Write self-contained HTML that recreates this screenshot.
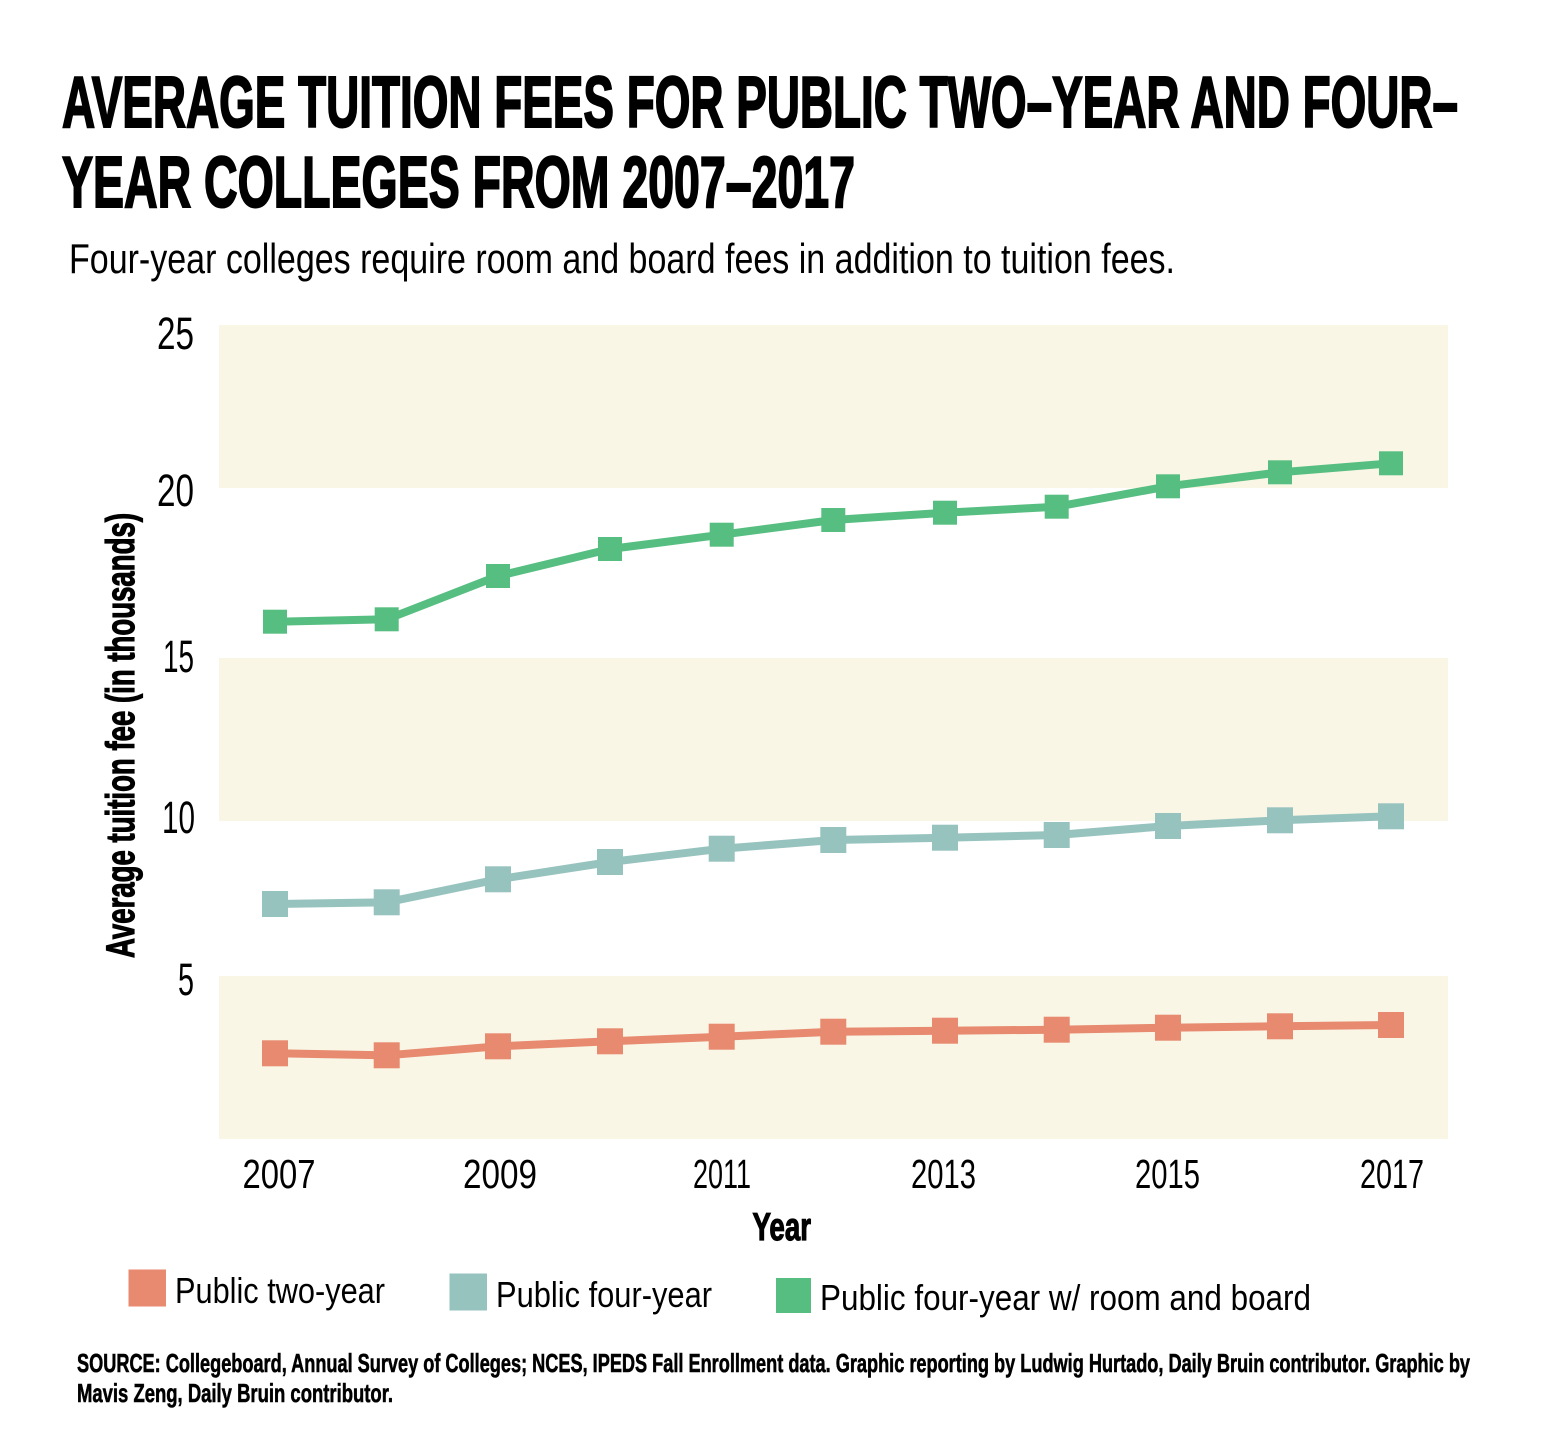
<!DOCTYPE html>
<html>
<head>
<meta charset="utf-8">
<style>
html,body{margin:0;padding:0;background:#fff;}
svg{display:block;}
text{font-family:"Liberation Sans",sans-serif;fill:#000;}
</style>
</head>
<body>
<svg width="1550" height="1439" viewBox="0 0 1550 1439" xmlns="http://www.w3.org/2000/svg">
<rect x="0" y="0" width="1550" height="1439" fill="#fff"/>

<!-- Title -->
<text x="62" y="127" font-size="72" font-weight="700" stroke="#000" stroke-width="2" textLength="1396" lengthAdjust="spacingAndGlyphs">AVERAGE TUITION FEES FOR PUBLIC TWO–YEAR AND FOUR–</text>
<text x="62" y="207" font-size="72" font-weight="700" stroke="#000" stroke-width="2" textLength="793" lengthAdjust="spacingAndGlyphs">YEAR COLLEGES FROM 2007–2017</text>

<!-- Subtitle -->
<text x="69" y="273" font-size="42" textLength="1106" lengthAdjust="spacingAndGlyphs">Four-year colleges require room and board fees in addition to tuition fees.</text>

<!-- Bands -->
<rect x="219" y="325" width="1229" height="163" fill="#f9f6e6"/>
<rect x="219" y="658" width="1229" height="163" fill="#f9f6e6"/>
<rect x="219" y="976" width="1229" height="163" fill="#f9f6e6"/>

<!-- Y tick labels -->
<text x="194" y="349" font-size="45" text-anchor="end" textLength="37" lengthAdjust="spacingAndGlyphs">25</text>
<text x="194" y="506" font-size="45" text-anchor="end" textLength="37" lengthAdjust="spacingAndGlyphs">20</text>
<text x="194" y="672" font-size="45" text-anchor="end" textLength="31" lengthAdjust="spacingAndGlyphs">15</text>
<text x="195" y="833" font-size="45" text-anchor="end" textLength="33" lengthAdjust="spacingAndGlyphs">10</text>
<text x="194" y="995" font-size="45" text-anchor="end" textLength="16" lengthAdjust="spacingAndGlyphs">5</text>

<!-- Y axis title -->
<text transform="translate(134,735.5) rotate(-90)" x="0" y="0" font-size="40" font-weight="700" stroke="#000" stroke-width="1.2" text-anchor="middle" textLength="445" lengthAdjust="spacingAndGlyphs">Average tuition fee (in thousands)</text>

<!-- X tick labels -->
<text x="279" y="1188" font-size="41" text-anchor="middle" textLength="73" lengthAdjust="spacingAndGlyphs">2007</text>
<text x="500" y="1188" font-size="41" text-anchor="middle" textLength="74" lengthAdjust="spacingAndGlyphs">2009</text>
<text x="722" y="1188" font-size="41" text-anchor="middle" textLength="58" lengthAdjust="spacingAndGlyphs">2011</text>
<text x="943.5" y="1188" font-size="41" text-anchor="middle" textLength="65" lengthAdjust="spacingAndGlyphs">2013</text>
<text x="1167.5" y="1188" font-size="41" text-anchor="middle" textLength="65" lengthAdjust="spacingAndGlyphs">2015</text>
<text x="1392" y="1188" font-size="41" text-anchor="middle" textLength="64" lengthAdjust="spacingAndGlyphs">2017</text>

<!-- X axis title -->
<text x="752.5" y="1240" font-size="39" font-weight="700" stroke="#000" stroke-width="1.2" textLength="58.5" lengthAdjust="spacingAndGlyphs">Year</text>

<!-- Series: green -->
<polyline fill="none" stroke="#57be81" stroke-width="8" stroke-linejoin="round"
 points="275,621.7 386.7,619.3 498,576 610,549 721.7,534.7 833.3,520 945,512.7 1056.7,506.7 1168,486.3 1280,472.3 1391,463.3"/>
<g fill="#57be81">
<rect x="263" y="609.7" width="24" height="24"/>
<rect x="374.7" y="607.3" width="24" height="24"/>
<rect x="486" y="564" width="24" height="24"/>
<rect x="598" y="537" width="24" height="24"/>
<rect x="709.7" y="522.7" width="24" height="24"/>
<rect x="821.3" y="508" width="24" height="24"/>
<rect x="933" y="500.7" width="24" height="24"/>
<rect x="1044.7" y="494.7" width="24" height="24"/>
<rect x="1156" y="474.3" width="24" height="24"/>
<rect x="1268" y="460.3" width="24" height="24"/>
<rect x="1379" y="451.3" width="24" height="24"/>
</g>

<!-- Series: teal -->
<polyline fill="none" stroke="#97c3bf" stroke-width="8" stroke-linejoin="round"
 points="275,904 386.7,902.3 498,879.3 610,862 721.7,848.7 833.3,840 945,837.7 1056.7,835 1168,826 1280,820.3 1391,816.3"/>
<g fill="#97c3bf">
<rect x="262" y="891" width="26" height="26"/>
<rect x="373.7" y="889.3" width="26" height="26"/>
<rect x="485" y="866.3" width="26" height="26"/>
<rect x="597" y="849" width="26" height="26"/>
<rect x="708.7" y="835.7" width="26" height="26"/>
<rect x="820.3" y="827" width="26" height="26"/>
<rect x="932" y="824.7" width="26" height="26"/>
<rect x="1043.7" y="822" width="26" height="26"/>
<rect x="1155" y="813" width="26" height="26"/>
<rect x="1267" y="807.3" width="26" height="26"/>
<rect x="1378" y="803.3" width="26" height="26"/>
</g>

<!-- Series: orange -->
<polyline fill="none" stroke="#e78a6f" stroke-width="8" stroke-linejoin="round"
 points="275,1053.3 386.7,1055.3 498,1046.3 610,1041.3 721.7,1036.7 833.3,1031.7 945,1030.7 1056.7,1029.7 1168,1027.7 1280,1026.3 1391,1025"/>
<g fill="#e78a6f">
<rect x="262" y="1040.3" width="26" height="26"/>
<rect x="373.7" y="1042.3" width="26" height="26"/>
<rect x="485" y="1033.3" width="26" height="26"/>
<rect x="597" y="1028.3" width="26" height="26"/>
<rect x="708.7" y="1023.7" width="26" height="26"/>
<rect x="820.3" y="1018.7" width="26" height="26"/>
<rect x="932" y="1017.7" width="26" height="26"/>
<rect x="1043.7" y="1016.7" width="26" height="26"/>
<rect x="1155" y="1014.7" width="26" height="26"/>
<rect x="1267" y="1013.3" width="26" height="26"/>
<rect x="1378" y="1012" width="26" height="26"/>
</g>

<!-- Legend -->
<rect x="128.5" y="1269.5" width="37.5" height="37" fill="#e78a6f"/>
<text x="175" y="1303" font-size="36" textLength="210" lengthAdjust="spacingAndGlyphs">Public two-year</text>
<rect x="449.5" y="1273.5" width="37.5" height="37" fill="#97c3bf"/>
<text x="496" y="1307" font-size="36" textLength="216" lengthAdjust="spacingAndGlyphs">Public four-year</text>
<rect x="776" y="1278" width="35" height="35" fill="#57be81"/>
<text x="820" y="1310" font-size="36" textLength="491" lengthAdjust="spacingAndGlyphs">Public four-year w/ room and board</text>

<!-- Source -->
<text x="77" y="1372" font-size="26" font-weight="700" stroke="#000" stroke-width="0.6" textLength="1393" lengthAdjust="spacingAndGlyphs">SOURCE: Collegeboard, Annual Survey of Colleges; NCES, IPEDS Fall Enrollment data. Graphic reporting by Ludwig Hurtado, Daily Bruin contributor. Graphic by</text>
<text x="77" y="1402" font-size="26" font-weight="700" stroke="#000" stroke-width="0.6" textLength="316" lengthAdjust="spacingAndGlyphs">Mavis Zeng, Daily Bruin contributor.</text>
</svg>
</body>
</html>
